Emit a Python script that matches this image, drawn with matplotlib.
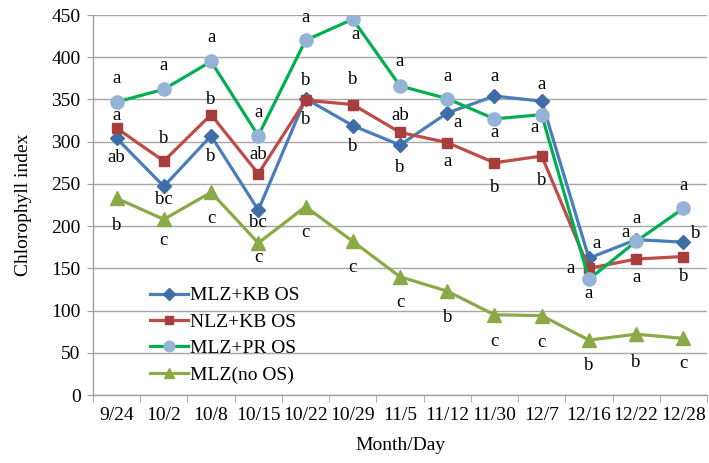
import matplotlib
matplotlib.use("Agg")
import matplotlib.pyplot as plt
import numpy as np

plt.rcParams['font.family'] = ['Liberation Serif', 'DejaVu Serif']

dates = ["9/24", "10/2", "10/8", "10/15", "10/22", "10/29", "11/5", "11/12",
         "11/30", "12/7", "12/16", "12/22", "12/28"]

mlz_kb = [304, 247, 307, 219, 351, 319, 296, 334, 354, 348, 162, 184, 181]
nlz_kb = [316, 277, 332, 262, 349, 344, 311, 299, 275, 283, 150, 161, 164]
mlz_pr = [347, 362, 395, 307, 420, 445, 366, 351, 327, 332, 137, 182, 221]
mlz_no = [233, 208, 240, 180, 223, 182, 140, 123, 95, 94, 65, 72, 67]

let_kb = ["ab", "bc", "b", "bc", "b", "b", "b", "a", "a", "a", "a", "a", "b"]
let_nlz = ["a", "b", "b", "ab", "b", "b", "ab", "a", "b", "b", "a", "a", "b"]
let_pr = ["a", "a", "a", "a", "a", "a", "a", "a", "a", "a", "a", "a", "a"]
let_no = ["b", "c", "c", "c", "c", "c", "c", "b", "c", "c", "b", "b", "c"]

# label offsets in pixels (layout only)
off_kb = [(0, -19), (0, -13), (0, -21), (0, -12), (0, -21), (0, -21), (0, -22),
          (10, -10), (0, 20), (0, 17), (8, 15), (-11, 7), (12, 9)]
off_nlz = [(0, 13), (0, 23), (0, 15), (0, 19), (0, 20), (0, 25), (0, 17),
           (0, -19), (0, -25), (0, -24), (-18, 0), (0, -18), (0, -20)]
off_pr = [(0, 23), (0, 24), (0, 24), (0, 23), (0, 23), (3, -15), (0, 24),
          (0, 22), (0, -14), (-7, -13), (0, -14), (0, 23), (0, 23)]
off_no = [(0, -27), (0, -21), (0, -26), (0, -15), (0, -26), (0, -26), (0, -26),
          (0, -26), (0, -27), (0, -27), (0, -25), (0, -28), (0, -25)]

fig = plt.figure(figsize=(7.09, 4.63), dpi=100)
ax = fig.add_axes([93/709, 1-395/463, (707-93)/709, (395-15)/463])

x = np.arange(len(dates))
series = [
    ("MLZ+KB OS", mlz_kb, let_kb, off_kb, dict(color="#4A7EBB", marker="D", ms=7.5,
                                               mfc="#3E6DA8", mec="#3E6DA8")),
    ("NLZ+KB OS", nlz_kb, let_nlz, off_nlz, dict(color="#BE4B48", marker="s", ms=7.5,
                                                 mfc="#A83E3B", mec="#A83E3B")),
    ("MLZ+PR OS", mlz_pr, let_pr, off_pr, dict(color="#00B050", marker="o", ms=9.5,
                                               mfc="#95B3D7", mec="#95B3D7")),
    ("MLZ(no OS)", mlz_no, let_no, off_no, dict(color="#8AAA48", marker="^", ms=9.5,
                                                mfc="#8AAA48", mec="#8AAA48")),
]

for name, vals, lets, offs, st in series:
    ax.plot(x, vals, lw=2.3, label=name, zorder=3, **st)
    for xi, v, l, o in zip(x, vals, lets, offs):
        ax.annotate(l, (xi, v), xytext=o, textcoords='offset pixels',
                    ha='center', va='center', fontsize=13.5, color='black', zorder=5)

ax.set_xlim(-0.5, len(dates) - 0.5)
ax.set_ylim(0, 450)
ax.set_yticks(np.arange(0, 451, 50))
ax.set_xticks(x)
ax.set_xticklabels(dates, fontsize=14)
ax.set_xticks(np.arange(-0.5, len(dates), 1), minor=True)
ax.tick_params(axis='x', which='major', length=0, pad=9)
ax.tick_params(axis='x', which='minor', length=5, color='#A0A0A0', direction='out')
ax.tick_params(axis='y', length=4, color='#A0A0A0', labelsize=14, pad=5)
ax.grid(axis='y', color='#A6A6A6', lw=1.0, zorder=0)
ax.set_axisbelow(True)
for s in ['top', 'right']:
    ax.spines[s].set_visible(False)
for s in ['left', 'bottom']:
    ax.spines[s].set_color('#A0A0A0')
    ax.spines[s].set_linewidth(1.0)

ax.set_xlabel("Month/Day", fontsize=14, labelpad=9)
ax.set_ylabel("Chlorophyll index", fontsize=14, labelpad=14)

leg = ax.legend(loc='lower left', bbox_to_anchor=(0.093, 0.03), frameon=False,
                fontsize=14, handlelength=1.95, handletextpad=0.1, labelspacing=0.45,
                borderaxespad=0, borderpad=0, markerscale=0.8)

fig.savefig("out.png", dpi=100)
